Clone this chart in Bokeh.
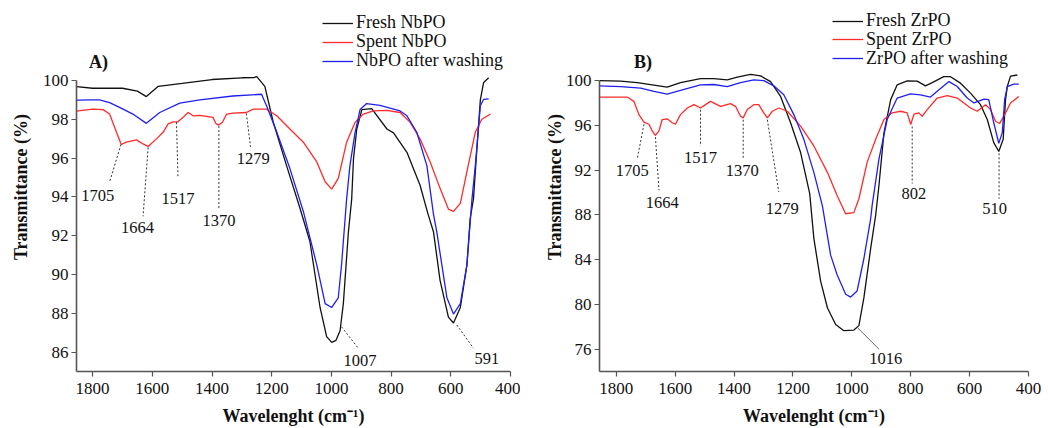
from bokeh.plotting import figure
from bokeh.layouts import row
from bokeh.models import (Range1d, FixedTicker, Legend, LegendItem, Label, ColumnDataSource)
from bokeh.core.properties import value
from bokeh.embed import file_html
from bokeh.resources import INLINE

# ---------------- data: panel A (NbPO) ----------------
nb_fresh_wn = [1854, 1800, 1700, 1650, 1620, 1580, 1500, 1400, 1300, 1260, 1250, 1223, 1195, 1150, 1105,
               1072, 1038, 1016, 999, 985, 971, 960, 943, 932, 926, 915, 898, 865, 814, 792, 747, 703,
               676, 658, 636, 608, 591, 568, 546, 535, 524, 512, 501, 490, 473]
nb_fresh_t = [99.68, 99.6, 99.6, 99.45, 99.17, 99.7, 99.85, 100.05, 100.14, 100.15, 100.2, 99.7, 97.86,
              95.6, 93.4, 91.7, 88.3, 86.8, 86.5, 86.6, 87.1, 88.5, 92.2, 93.9, 95.97, 97.5, 98.5, 98.55,
              97.5, 97.3, 96.3, 94.6, 93.1, 92.2, 89.7, 87.8, 87.5, 88.3, 90.5, 92.9, 93.9, 96.6, 99.0,
              99.9, 100.14]

nb_spent_wn = [1854, 1800, 1765, 1743, 1720, 1704, 1687, 1653, 1631, 1614, 1586, 1564, 1547, 1530, 1514,
               1497, 1480, 1463, 1441, 1397, 1386, 1377, 1365, 1351, 1329, 1285, 1262, 1217, 1183, 1139,
               1094, 1049, 1021, 999, 977, 949, 921, 893, 859, 815, 770, 736, 703, 669, 636, 608, 591,
               568, 546, 518, 496, 467]
nb_spent_t = [98.42, 98.52, 98.5, 98.27, 97.33, 96.7, 96.82, 96.94, 96.73, 96.6, 96.99, 97.33, 97.76,
              97.87, 97.87, 98.1, 98.35, 98.18, 98.2, 98.1, 97.76, 97.7, 97.85, 98.27, 98.32, 98.35, 98.52,
              98.52, 98.18, 97.5, 96.82, 95.8, 94.78, 94.4, 94.95, 96.82, 97.84, 98.27, 98.43, 98.46,
              98.35, 97.84, 96.99, 95.8, 94.44, 93.37, 93.25, 93.67, 95.3, 97.33, 98.0, 98.27]

nb_wash_wn = [1854, 1800, 1777, 1743, 1698, 1665, 1620, 1575, 1508, 1441, 1330, 1234, 1217, 1183, 1139,
              1094, 1049, 1021, 999, 977, 966, 949, 938, 921, 904, 882, 837, 770, 747, 714, 680, 658,
              647, 613, 591, 568, 546, 529, 518, 501, 490, 473]
nb_wash_t = [98.99, 99.0, 99.0, 98.86, 98.52, 98.27, 97.79, 98.35, 98.83, 99.0, 99.2, 99.29, 98.69, 97.34,
             95.46, 93.25, 90.5, 88.5, 88.3, 88.8, 90.5, 93.9, 95.6, 97.3, 98.5, 98.81, 98.72, 98.43,
             98.18, 97.33, 95.6, 93.1, 92.2, 88.8, 87.96, 88.5, 90.5, 93.9, 95.6, 98.7, 99.03, 99.05]

# ---------------- data: panel B (ZrPO) ----------------
zr_fresh_wn = [1857, 1785, 1729, 1672, 1627, 1582, 1514, 1469, 1423, 1389, 1344, 1310, 1276, 1242, 1208,
               1174, 1143, 1129, 1106, 1083, 1055, 1027, 993, 976, 959, 936, 919, 908, 891, 868, 846,
               812, 778, 750, 727, 688, 665, 631, 597, 563, 540, 518, 501, 486, 478, 472, 461, 438]
zr_fresh_t = [100.0, 99.95, 99.82, 99.59, 99.41, 99.82, 100.18, 100.18, 100.06, 100.3, 100.56, 100.42,
              99.91, 98.58, 96.23, 93.57, 89.9, 85.9, 82.07, 79.7, 78.2, 77.65, 77.7, 78.1, 80.6, 85.0,
              87.97, 90.6, 95.3, 98.3, 99.62, 99.97, 99.95, 99.53, 99.82, 100.35, 100.35, 99.77, 98.88,
              97.85, 96.52, 94.46, 93.66, 94.75, 98.3, 99.47, 100.4, 100.5]

zr_spent_wn = [1857, 1763, 1740, 1723, 1706, 1689, 1678, 1667, 1655, 1644, 1627, 1610, 1599, 1582, 1559,
               1536, 1514, 1497, 1480, 1446, 1412, 1395, 1378, 1369, 1355, 1333, 1316, 1299, 1287, 1270,
               1248, 1219, 1174, 1129, 1083, 1050, 1021, 993, 976, 948, 919, 891, 863, 834, 812, 800,
               789, 772, 761, 744, 710, 676, 642, 597, 574, 546, 529, 512, 498, 484, 461, 433]
zr_spent_t = [98.53, 98.53, 98.14, 96.96, 96.28, 96.1, 95.5, 95.1, 95.5, 96.52, 96.58, 96.23, 96.1, 96.96,
              97.55, 97.85, 97.55, 97.85, 98.14, 97.7, 97.94, 97.7, 96.81, 96.67, 97.41, 97.85, 97.85,
              97.12, 96.67, 97.26, 97.55, 97.26, 95.93, 94.16, 91.8, 89.73, 88.1, 88.2, 89.44, 92.69,
              94.75, 96.52, 97.12, 97.26, 97.12, 96.08, 97.0, 97.12, 96.8, 97.41, 98.44, 98.65, 98.44,
              97.55, 97.26, 97.85, 97.41, 96.37, 96.17, 96.8, 98.0, 98.58]

zr_wash_wn = [1857, 1785, 1717, 1672, 1627, 1582, 1514, 1469, 1423, 1378, 1333, 1299, 1265, 1231, 1197,
              1163, 1129, 1100, 1072, 1050, 1021, 1004, 982, 959, 936, 931, 908, 880, 846, 801, 767, 733,
              704, 670, 642, 608, 585, 551, 535, 518, 501, 489, 481, 472, 450, 433]
zr_wash_t = [99.53, 99.47, 99.33, 99.03, 98.8, 99.12, 99.62, 99.65, 99.47, 99.82, 100.06, 100.0, 99.53,
             98.73, 96.96, 94.75, 91.8, 88.8, 84.4, 82.65, 80.9, 80.65, 81.2, 84.1, 87.67, 88.85, 92.98,
             96.52, 98.44, 98.82, 98.73, 98.53, 99.18, 99.91, 99.47, 98.44, 98.0, 98.35, 98.3, 96.23,
             94.4, 95.35, 98.3, 99.47, 99.68, 99.68]

# ---------------- annotations ----------------
nb_peak_labels = ["1705", "1664", "1517", "1370", "1279", "1007", "591"]
nb_label_wn = [1783, 1650, 1514, 1377, 1262, 904, 479]
nb_label_t = [94.08, 92.43, 93.93, 92.77, 95.97, 85.55, 85.65]
nb_lead_wn0 = [1705, 1614, 1519, 1377, 1285, 966, 580]
nb_lead_t0 = [96.7, 96.55, 97.85, 97.65, 98.3, 87.3, 87.4]
nb_lead_wn1 = [1743, 1631, 1514, 1377, 1271, 910, 524]
nb_lead_t1 = [94.78, 93.0, 95.0, 93.4, 96.57, 86.2, 86.2]

zr_peak_labels = ["1705", "1664", "1517", "1370", "1279", "802", "510", "1016"]
zr_label_wn = [1746, 1644, 1514, 1372, 1236, 789, 515, 885]
zr_label_t = [91.95, 89.09, 93.13, 91.95, 88.56, 89.88, 88.56, 75.13]
zr_lead_wn0 = [1706, 1667, 1514, 1369, 1287, 795, 500, 982]
zr_lead_t0 = [96.1, 94.95, 97.4, 96.5, 96.5, 95.9, 93.5, 77.95]
zr_lead_wn1 = [1729, 1655, 1514, 1369, 1248, 795, 500, 908]
zr_lead_t1 = [92.97, 90.2, 94.16, 93.0, 90.04, 90.8, 89.44, 76.0]

x_ticks = [400, 600, 800, 1000, 1200, 1400, 1600, 1800]
nb_y_ticks = [86, 88, 90, 92, 94, 96, 98, 100]
zr_y_ticks = [76, 80, 84, 88, 92, 96, 100]

FONT = "Liberation Serif"
BLACK = "#111111"
RED = "#ff2a2a"
BLUE = "#2020ee"
AXIS = "#555555"


def style(p, ylabel_standoff):
    p.outline_line_color = None
    p.xgrid.visible = False
    p.ygrid.visible = False
    for ax in (p.xaxis[0], p.yaxis[0]):
        ax.axis_line_color = AXIS
        ax.axis_line_width = 1.6
        ax.major_tick_line_color = AXIS
        ax.major_tick_line_width = 1.2
        ax.major_tick_in = 0
        ax.major_tick_out = 5
        ax.minor_tick_line_color = None
        ax.major_label_text_font = FONT
        ax.major_label_text_font_size = "17px"
        ax.major_label_text_color = "#111111"
        ax.axis_label_text_font = FONT
        ax.axis_label_text_font_style = "bold"
        ax.axis_label_text_font_size = "18px"
        ax.axis_label_text_color = "#111111"
    p.xaxis[0].major_label_standoff = 6
    p.xaxis[0].axis_label_standoff = 9
    p.yaxis[0].major_label_standoff = 3
    p.yaxis[0].axis_label_standoff = ylabel_standoff


def panel(width, bl, br, bb, xstart, ystart, ytop, yticks,
          series, labels, lab_wn, lab_t, l0w, l0t, l1w, l1t, solid_last,
          leg_x, leg_ys, tag, tag_xy, ylab_standoff):
    p = figure(width=width, height=428, output_backend="svg", toolbar_location=None,
               x_range=Range1d(xstart, 400), y_range=Range1d(ystart, ytop),
               min_border_left=bl, min_border_right=br, min_border_top=2, min_border_bottom=bb,
               x_axis_label="Wavelenght (cm\u207b\u00b9)", y_axis_label="Transmittance (%)")
    style(p, ylab_standoff)
    p.xaxis[0].ticker = FixedTicker(ticks=x_ticks)
    p.yaxis[0].ticker = FixedTicker(ticks=yticks)
    p.yaxis[0].bounds = (ystart, 100)

    renderers = []
    for (wn, t, color, name) in series:
        r = p.line(wn, t, line_color=color, line_width=1.3)
        renderers.append((r, name))

    n = len(labels)
    dotted_idx = list(range(n - 1)) if solid_last else list(range(n))
    src_d = ColumnDataSource(dict(x0=[l0w[i] for i in dotted_idx], y0=[l0t[i] for i in dotted_idx],
                                  x1=[l1w[i] for i in dotted_idx], y1=[l1t[i] for i in dotted_idx]))
    p.segment("x0", "y0", "x1", "y1", source=src_d, line_color="#333333", line_width=1,
              line_dash="2 2")
    if solid_last:
        p.segment([l0w[-1]], [l0t[-1]], [l1w[-1]], [l1t[-1]], line_color="#555555", line_width=0.9)

    src_t = ColumnDataSource(dict(x=lab_wn, y=lab_t, text=labels))
    p.text("x", "y", text="text", source=src_t, text_font=value(FONT), text_font_size="16.5px",
           text_align="center", text_baseline="middle", text_color="#111111")

    for (r, name), ly in zip(renderers, leg_ys):
        leg = Legend(items=[LegendItem(label=name, renderers=[r])], location=(leg_x, ly),
                     orientation="vertical", border_line_color=None, background_fill_alpha=0,
                     padding=0, margin=0, spacing=0, glyph_width=31, glyph_height=18,
                     label_height=18, label_standoff=3, label_text_font=FONT,
                     label_text_font_size="18px", label_text_color="#111111",
                     label_text_line_height=1.0)
        p.add_layout(leg, "center")

    p.add_layout(Label(x=tag_xy[0], y=tag_xy[1], x_units="screen", y_units="screen", text=tag,
                       text_font=FONT, text_font_style="bold", text_font_size="18px",
                       text_align="center", text_baseline="middle", text_color="#111111"))
    return p


pA = panel(520, 76, 10, 52, 1854, 85, 104.02, nb_y_ticks,
           [(nb_fresh_wn, nb_fresh_t, BLACK, "Fresh NbPO"),
            (nb_spent_wn, nb_spent_t, RED, "Spent NbPO"),
            (nb_wash_wn, nb_wash_t, BLUE, "NbPO after washing")],
           nb_peak_labels, nb_label_wn, nb_label_t, nb_lead_wn0, nb_lead_t0, nb_lead_wn1, nb_lead_t1,
           False, 246, [337.6, 318.8, 300.0], "A)", (22, 309.5), 9)

pB = panel(528, 79, 20, 54, 1857, 74, 106.98, zr_y_ticks,
           [(zr_fresh_wn, zr_fresh_t, BLACK, "Fresh ZrPO"),
            (zr_spent_wn, zr_spent_t, RED, "Spent ZrPO"),
            (zr_wash_wn, zr_wash_t, BLUE, "ZrPO after washing")],
           zr_peak_labels, zr_label_wn, zr_label_t, zr_lead_wn0, zr_lead_t0, zr_lead_wn1, zr_lead_t1,
           True, 233, [339.8, 321.2, 302.2], "B)", (43.5, 309.5), -2)

layout = row(pA, pB)
open("out.html", "w").write(file_html(layout, INLINE))
